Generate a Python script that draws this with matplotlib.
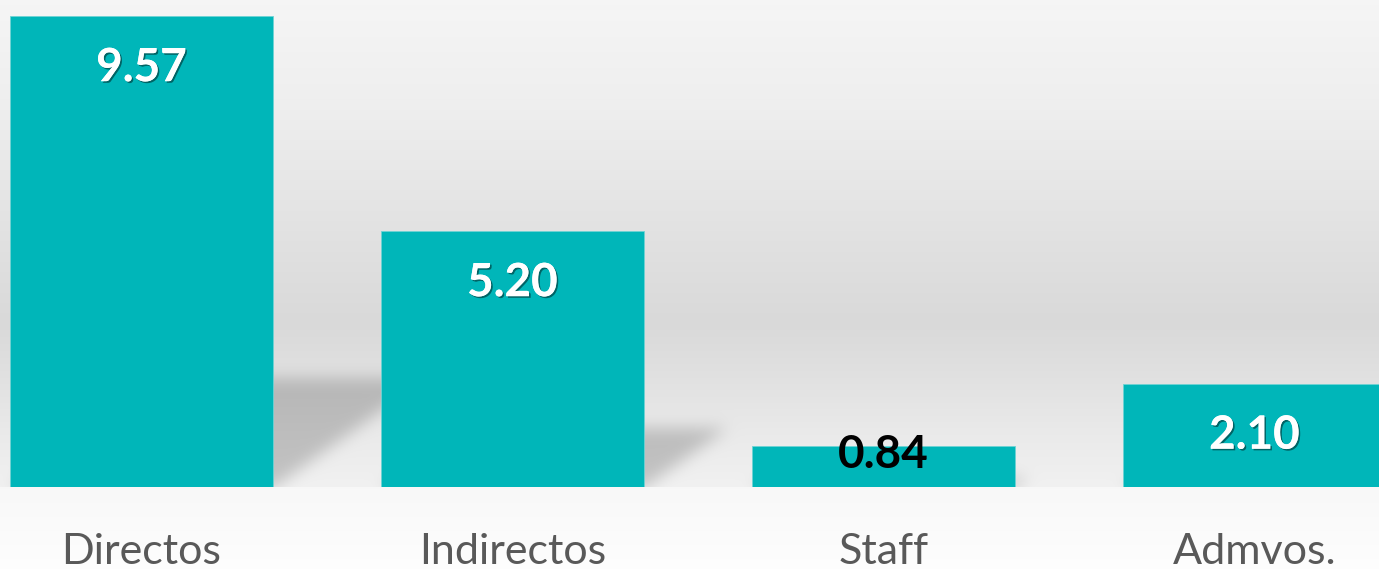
import numpy as np
import matplotlib
matplotlib.use("Agg")
import matplotlib.pyplot as plt
import matplotlib.patheffects as pe

# ---- data ----
categories = ["Directos", "Indirectos", "Staff", "Admvos."]
values = [9.57, 5.20, 0.84, 2.10]
value_labels = ["9.57", "5.20", "0.84", "2.10"]

W, H, DPI = 1379, 569, 100
BAR_COLOR = "#00B6B9"

fig = plt.figure(figsize=(W / DPI, H / DPI), dpi=DPI)

# background axes (pixel coordinates, top-down)
bg = fig.add_axes([0, 0, 1, 1], zorder=0)
bg.set_xlim(0, W)
bg.set_ylim(H, 0)
bg.axis("off")

# main axes
base_px = 487
ax = fig.add_axes([0, (H - base_px) / H, 1, base_px / H], zorder=1)
ax.patch.set_alpha(0)
x = np.arange(len(categories))
ax.set_xlim(-141.5 / 371, (W - 141.5) / 371)
ax.set_ylim(0, base_px / 49.2)
for s in ax.spines.values():
    s.set_visible(False)
ax.set_yticks([])
ax.set_xticks([])

bars = ax.bar(x, values, width=263 / 371, color=BAR_COLOR,
              edgecolor="#6fd3d4", linewidth=0.6, zorder=2)

# ---- background gradient ----
rows = np.arange(H)
g_wall = np.interp(rows, [0, 100, 200, 323, 370, 430, 486],
                   [0.962, 0.937, 0.898, 0.851, 0.878, 0.915, 0.945])
g_floor = np.interp(rows, [487, 569], [0.972, 0.995])
g = np.where(rows < base_px, g_wall, g_floor)
img = np.repeat(g[:, None], W, axis=1)

# ---- perspective shadows (from bar geometry) ----
def box_blur(a, r, axis):
    k = 2 * r + 1
    pad = [(0, 0), (0, 0)]
    pad[axis] = (r + 1, r)
    ap = np.pad(a, pad, mode="edge")
    c = np.cumsum(ap, axis=axis)
    if axis == 0:
        return (c[k:] - c[:-k]) / k
    return (c[:, k:] - c[:, :-k]) / k

yy, xx = np.mgrid[0:H, 0:W].astype(float)
mask = np.zeros((H, W))
for b in bars:
    (x0, y0) = ax.transData.transform((b.get_x(), 0))
    (x1, y1) = ax.transData.transform((b.get_x() + b.get_width(), b.get_height()))
    base = H - y0
    hpx = y1 - y0
    sh = 0.232 * hpx
    shift = 1.4 * sh
    t = (base - yy) / max(sh, 1e-6)
    inside = (t >= 0) & (t <= 1) & (xx >= x0 + shift * t) & (xx <= x1 + shift * t)
    mask = np.maximum(mask, inside.astype(float))
for _ in range(3):
    mask = box_blur(mask, 7, 0)
    mask = box_blur(mask, 7, 1)
mask[rows >= base_px, :] = 0
img = img * (1 - 0.19 * mask)

rgb = np.dstack([img, img, img])
bg.imshow(rgb, extent=(0, W, H, 0), aspect="auto", interpolation="bilinear")

# ---- value labels ----
px_per_pt = DPI / 72.0
for b, lab in zip(bars, value_labels):
    cx = b.get_x() + b.get_width() / 2
    top = b.get_height()
    hpx = ax.transData.transform((0, top))[1] - ax.transData.transform((0, 0))[1]
    if hpx > 80:
        off, col = -52, "white"
        effects = [pe.withSimplePatchShadow(offset=(1.2, -1.2), shadow_rgbFace="black", alpha=0.45),
                   pe.Normal()]
    else:
        off, col = -9, "black"
        effects = None
    ax.annotate(lab, xy=(cx, top), xytext=(0, off / px_per_pt), textcoords="offset points",
                ha="center", va="center", fontsize=33, fontweight="bold", family="Lato",
                color=col, path_effects=effects, zorder=5, annotation_clip=False)

# ---- category labels ----
for xi, c in zip(x, categories):
    ax.annotate(c, xy=(xi, 0), xytext=(0, -(564 - base_px) / px_per_pt), textcoords="offset points",
                ha="center", va="baseline", fontsize=31, family="Lato", color="#595959",
                annotation_clip=False)

fig.savefig("out.png", dpi=DPI)
